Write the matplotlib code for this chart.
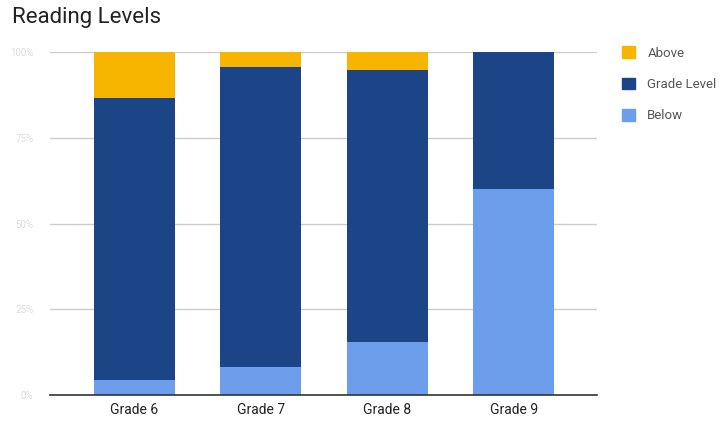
import matplotlib.pyplot as plt
import matplotlib as mpl
from matplotlib.patches import Patch
import numpy as np


GRADES = ["Grade 6", "Grade 7", "Grade 8", "Grade 9"]
BELOW = [4.4, 8.2, 15.4, 60.0]
GRADE_LEVEL = [82.2, 87.4, 79.3, 40.0]
ABOVE = [13.4, 4.4, 5.3, 0.0]
Y_TICKS = [0, 25, 50, 75, 100]
Y_LABELS = ["0%", "25%", "50%", "75%", "100%"]

COLOR_ABOVE = "#f7b500"
COLOR_GRADE = "#1c4587"
COLOR_BELOW = "#6d9eeb"


def main():
    mpl.rcParams['font.family'] = ['Roboto', 'DejaVu Sans']

    fig = plt.figure(figsize=(7.23, 4.23), dpi=100)
    ax = fig.add_axes([50 / 723, 28 / 423, 547 / 723, 343 / 423])

    x = np.arange(len(GRADES))
    width = 0.64
    below = np.array(BELOW)
    grade = np.array(GRADE_LEVEL)
    above = np.array(ABOVE)

    # stacked bars, bottom to top
    ax.bar(x, below, width, color=COLOR_BELOW, zorder=3)
    ax.bar(x, grade, width, bottom=below, color=COLOR_GRADE, zorder=3)
    ax.bar(x, above, width, bottom=below + grade, color=COLOR_ABOVE, zorder=3)

    ax.set_xlim(-0.668, 3.66)
    ax.set_ylim(0, 100)
    ax.set_xticks(x)
    ax.set_xticklabels(GRADES, fontsize=10, color="#222222")
    ax.set_yticks(Y_TICKS)
    ax.set_yticklabels(Y_LABELS, fontsize=7, color="#dddddd")
    ax.tick_params(axis="both", length=0, pad=6)
    ax.tick_params(axis="y", pad=12)

    ax.grid(axis="y", color="#cccccc", linewidth=1, zorder=0)
    for side in ["top", "right", "left"]:
        ax.spines[side].set_visible(False)
    ax.spines["bottom"].set_color("#333333")
    ax.spines["bottom"].set_linewidth(1.2)
    ax.spines["bottom"].set_zorder(4)

    fig.text(12 / 723, 1 - 17 / 423, "Reading Levels", fontsize=16,
             color="#222222", va="center", ha="left")

    handles = [
        Patch(color=COLOR_ABOVE, label="Above"),
        Patch(color=COLOR_GRADE, label="Grade Level"),
        Patch(color=COLOR_BELOW, label="Below"),
    ]
    leg = fig.legend(handles=handles, loc="upper left",
                     bbox_to_anchor=(617 / 723, 1 - 41 / 423),
                     frameon=False, fontsize=9.5, labelspacing=1.35,
                     handlelength=1.0, handleheight=1.0, handletextpad=0.9,
                     borderaxespad=0)
    for t in leg.get_texts():
        t.set_color("#555555")

    fig.savefig("out.png", dpi=100)


if __name__ == "__main__":
    main()
